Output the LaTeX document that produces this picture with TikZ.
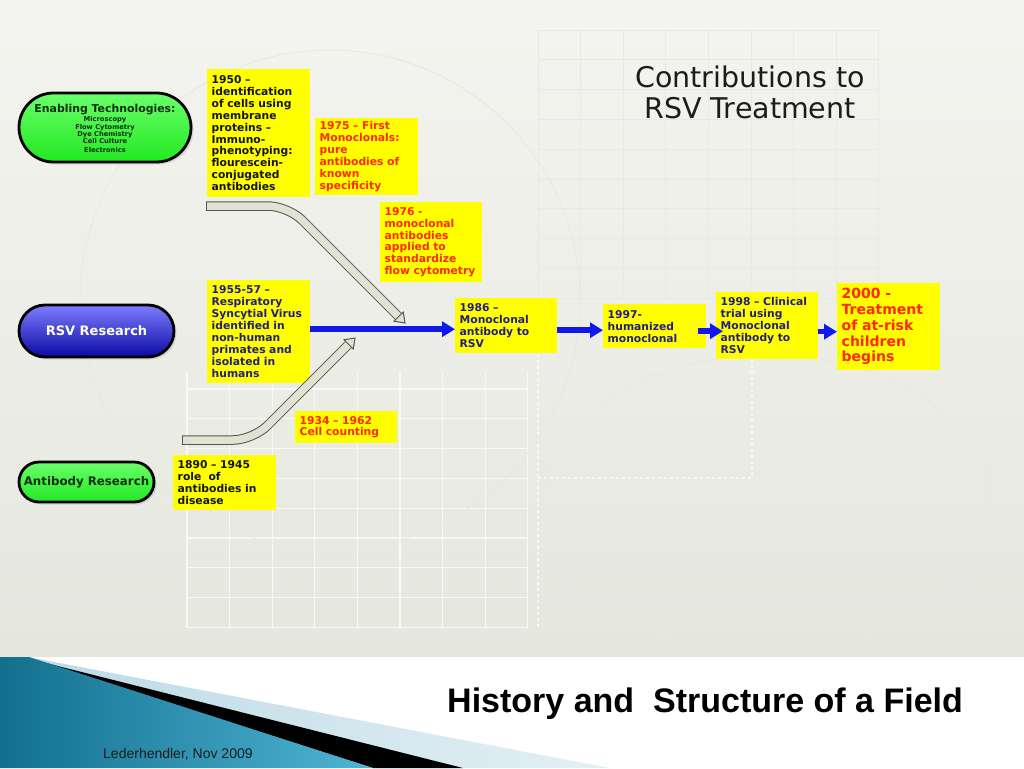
\documentclass[tikz,border=0pt]{standalone}
\usepackage{fontspec}
\setmainfont{DejaVu Sans}
\newfontfamily\arialfont{Liberation Sans}
\usetikzlibrary{arrows.meta,calc,shadows}
\definecolor{bgtop}{RGB}{244,244,240}
\definecolor{bgbot}{RGB}{229,231,221}
\definecolor{gridc}{RGB}{232,233,227}
\definecolor{gridw}{RGB}{248,248,245}
\definecolor{faintc}{RGB}{231,232,225}
\definecolor{boxyellow}{RGB}{255,255,0}
\definecolor{redtxt}{RGB}{255,40,0}
\definecolor{navytxt}{RGB}{35,30,130}
\definecolor{darktxt}{RGB}{20,20,20}
\definecolor{greentxt}{RGB}{15,45,15}
\definecolor{arrowblue}{RGB}{15,25,235}
\definecolor{goutc}{RGB}{85,85,75}
\definecolor{gfillc}{RGB}{226,226,212}
\definecolor{tealL}{RGB}{18,112,142}
\definecolor{tealR}{RGB}{80,180,212}
\definecolor{lblueL}{RGB}{188,218,230}
\definecolor{lblueR}{RGB}{228,240,245}
\definecolor{titlec}{RGB}{28,28,28}
\begin{document}
\begin{tikzpicture}[x=1pt,y=-1pt,
  ybox/.style={fill=boxyellow, anchor=north west, inner xsep=4.5pt, inner ysep=3pt, align=left,
    font=\fontsize{10.75}{11.9}\selectfont\bfseries},
  pill/.style={draw=black, line width=2.8pt,
    drop shadow={shadow xshift=2.5pt, shadow yshift=-2.5pt, opacity=0.22}},
  greenpill/.style={pill, top color={rgb,255:red,105;green,255;blue,105}, bottom color={rgb,255:red,35;green,232;blue,35}},
  bluepill/.style={pill, top color={rgb,255:red,125;green,125;blue,255}, middle color={rgb,255:red,45;green,45;blue,238}, bottom color={rgb,255:red,10;green,10;blue,165}},
  barrow/.style={draw=arrowblue, line width=5.5pt, -{Triangle[length=13pt,width=15pt]}},
  gouter/.style={draw=goutc, line width=9.5pt, rounded corners=20pt},
  ginner/.style={draw=gfillc, line width=7.5pt, rounded corners=20pt},
  ghead/.style={fill=gfillc, draw=goutc, line width=1pt, line join=miter},
  gridline/.style={draw=gridc, line width=0.8pt},
  gridwhite/.style={draw=gridw, line width=1.3pt},
  faint/.style={draw=faintc, line width=0.8pt}
]
\useasboundingbox (0,0) rectangle (1024,768);
% background
\shade[top color=bgtop, bottom color=bgbot] (0,0) rectangle (1024,657);
% faint background decoration
\foreach \k in {0,...,8} {\draw[gridline] (538+42.6*\k,30) -- (538+42.6*\k,300);}
\foreach \k in {0,...,9} {\draw[gridline] (538,30+29.8*\k) -- (879,30+29.8*\k);}
\foreach \k in {0,...,8} {\draw[gridwhite] (187+42.6*\k,372) -- (187+42.6*\k,627);}
\foreach \k in {0,...,8} {\draw[gridwhite] (187,389+29.8*\k) -- (528,389+29.8*\k);}
\draw[gridwhite, dashed] (538,300) -- (538,627);
\draw[gridwhite, dashed] (538,478) -- (752,478) -- (752,355);
\draw[faint] (767,505) ellipse [x radius=224pt, y radius=150pt];
\draw[faint] (330,300) circle [radius=250pt];
% bottom banner
\fill[white] (0,657) rectangle (1024,768);
\shade[left color=lblueL, right color=lblueR] (28,657) -- (610,768) -- (373,768) -- cycle;
\fill[black] (30,659) -- (463,768) -- (373,768) -- cycle;
\shade[left color=tealL, right color=tealR] (0,657) -- (29,657) -- (373,768) -- (0,768) -- cycle;
\node[anchor=base west, inner sep=0pt, font=\arialfont\fontsize{14}{16}\selectfont, text=titlec] (footer) at (103,758) {Lederhendler, Nov 2009};
\node[anchor=base west, inner sep=0pt, font=\arialfont\bfseries\fontsize{34}{38}\selectfont, text=black] (ftitle) at (447,712) {History and~ Structure of a Field};
% slide title
\node[anchor=north, inner sep=0pt, align=center, font=\fontsize{28.5}{31}\selectfont, text=titlec] (title) at (750,65.5) {Contributions to\\RSV Treatment};
% pills
\node[greenpill, minimum width=172pt, minimum height=69pt, rounded corners=34.5pt] (enab) at (105,127.5) {};
\node[inner sep=0pt, font=\fontsize{10.9}{12}\selectfont\bfseries, text=greentxt] (enabT) at (105,109.5) {Enabling Technologies:};
\node[anchor=north, inner sep=0pt, align=center, font=\fontsize{6.7}{7.4}\selectfont\bfseries, text=greentxt] (enabL) at (105,116.5) {Microscopy\\Flow Cytometry\\Dye Chemistry\\Cell Culture\\[1.5pt]Electronics};
\node[bluepill, minimum width=155pt, minimum height=52pt, rounded corners=26pt, text=white, font=\fontsize{13}{14}\selectfont\bfseries] (rsv) at (96.5,331) {RSV Research};
\node[greenpill, minimum width=135pt, minimum height=40pt, rounded corners=20pt, text=greentxt, font=\fontsize{11.8}{13}\selectfont\bfseries, inner sep=0pt] (abr) at (86.5,482) {Antibody Research};
% yellow boxes
\node[ybox, text width=94pt, minimum height=128pt, text=darktxt] (n1950) at (207,69) {1950 –\\identification\\of cells using\\membrane\\proteins –\\Immuno-\\phenotyping:\\flourescein-\\conjugated\\antibodies};
\node[ybox, text width=94pt, minimum height=77pt, text=redtxt] (n1975) at (315,118) {1975 – First\\Monoclonals:\\pure\\antibodies of\\known\\specificity};
\node[ybox, text width=93pt, minimum height=80pt, text=redtxt] (n1976) at (380,202) {1976 -\\monoclonal\\antibodies\\applied to\\standardize\\flow cytometry};
\node[ybox, text width=94pt, minimum height=103pt, text=navytxt] (n1955) at (207,280) {1955-57 –\\Respiratory\\Syncytial Virus\\identified in\\non-human\\primates and\\isolated in\\humans};
\node[ybox, text width=93pt, minimum height=55pt, text=navytxt] (n1986) at (455,298) {1986 –\\Monoclonal\\antibody to\\RSV};
\node[ybox, text width=94pt, minimum height=44pt, text=navytxt] (n1997) at (603,304) {1997-\\humanized\\monoclonal};
\node[ybox, text width=93pt, minimum height=67pt, text=navytxt] (n1998) at (716,292) {1998 – Clinical\\trial using\\Monoclonal\\antibody to\\RSV};
\node[ybox, text width=94pt, minimum height=87pt, text=redtxt, font=\fontsize{14}{15.8}\selectfont\bfseries] (n2000) at (837,283) {2000 -\\Treatment\\of at-risk\\children\\begins};
\node[ybox, text width=93pt, minimum height=32pt, text=redtxt] (n1934) at (295,411) {1934 – 1962\\Cell counting};
\node[ybox, text width=94pt, minimum height=55pt, text=darktxt] (n1890) at (173,455) {1890 – 1945\\role~ of\\antibodies in\\disease};
% blue arrows
\draw[barrow] ([yshift=2.5pt]n1955.east) -- ([yshift=2.5pt]n1955.east -| n1986.west);
\draw[barrow] ([yshift=-4.5pt]n1986.east) -- ([yshift=-4.5pt]n1986.east -| n1997.west);
\draw[barrow] ([xshift=-8pt,yshift=-5pt]n1997.east) -- ([xshift=7pt,yshift=-5pt]n1997.east -| n1998.west);
\draw[barrow] ([yshift=-6pt]n1998.east) -- ([yshift=-6pt]n1998.east -| n2000.west);
% gray bent arrows
\coordinate (ga1) at (207,206);
\coordinate (ga2) at (288,206);
\coordinate (gatip) at (405,323);
\coordinate (gabase) at ($(gatip)!9pt!(ga2)$);
\draw[gouter] ($(ga1)+(-1,0)$) -- (ga2) -- (gabase);
\draw[ginner] (ga1) -- (ga2) -- (gabase);
\draw[ghead] (gatip) -- ($(gabase)!6.5pt!90:(gatip)$) -- ($(gabase)!6.5pt!-90:(gatip)$) -- cycle;
\coordinate (gb1) at (183,440);
\coordinate (gb2) at (253,440);
\coordinate (gbtip) at (355,338);
\coordinate (gbbase) at ($(gbtip)!9pt!(gb2)$);
\draw[gouter] ($(gb1)+(-1,0)$) -- (gb2) -- (gbbase);
\draw[ginner] (gb1) -- (gb2) -- (gbbase);
\draw[ghead] (gbtip) -- ($(gbbase)!6.5pt!90:(gbtip)$) -- ($(gbbase)!6.5pt!-90:(gbtip)$) -- cycle;
\end{tikzpicture}
\end{document}
